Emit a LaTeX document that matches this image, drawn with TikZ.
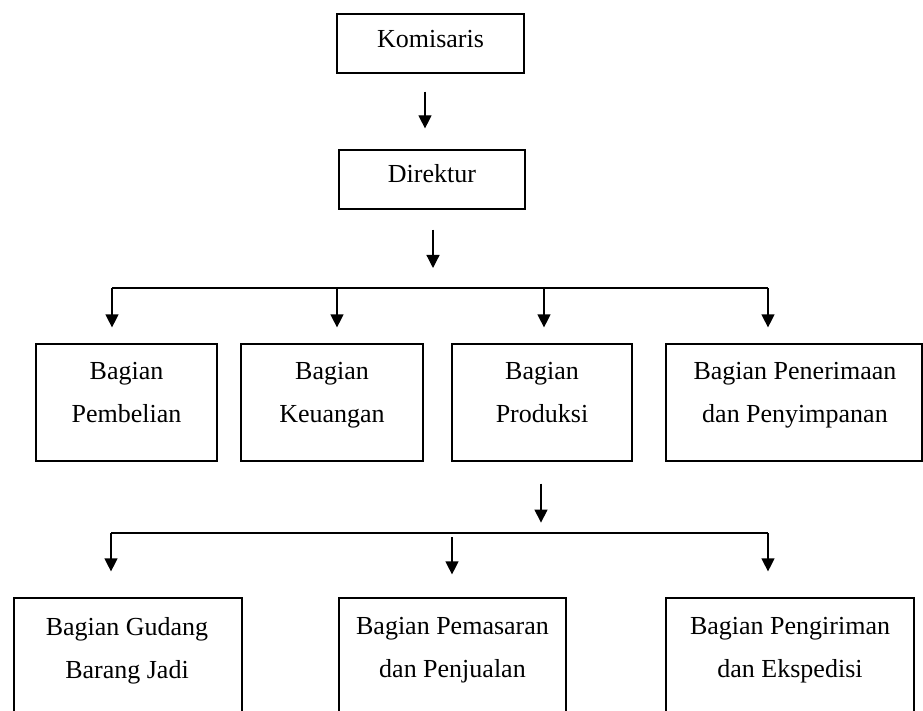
\documentclass[tikz,border=0pt]{standalone}
\usepackage{fontspec}
\setmainfont{Liberation Serif}
\usetikzlibrary{arrows.meta}
\begin{document}
\begin{tikzpicture}[x=1pt,y=-1pt,
  box/.style={draw=black, line width=1.2pt, inner sep=0pt},
  txt/.style={align=center, inner sep=0pt, font=\fontsize{26}{43}\selectfont},
  arr/.style={draw=black, line width=1.2pt, -{Triangle[width=13pt,length=13pt]}},
  busline/.style={draw=black, line width=1.2pt}]
\useasboundingbox (0,0) rectangle (923,711);
\clip (0,0) rectangle (923,711);
\fill[white] (0,0) rectangle (923,711);

% top boxes
\node[box, minimum width=187pt, minimum height=59pt] (kom) at (430.5,43.5) {};
\node[txt, anchor=base] (tkom) at (430.5,48) {Komisaris};
\node[box, minimum width=186pt, minimum height=59pt] (dir) at (432,179.5) {};
\node[txt, anchor=base] (tdir) at (432,183) {Direktur};

% row 1
\node[box, minimum width=181pt, minimum height=117pt] (b1) at (126.5,402.5) {};
\node[box, minimum width=182pt, minimum height=117pt] (b2) at (332,402.5) {};
\node[box, minimum width=180pt, minimum height=117pt] (b3) at (542,402.5) {};
\node[box, minimum width=256pt, minimum height=117pt] (b4) at (794,402.5) {};
\node[txt, anchor=north] (t1) at (126.5,362) {Bagian\\Pembelian};
\node[txt, anchor=north] (t2) at (332,362) {Bagian\\Keuangan};
\node[txt, anchor=north] (t3) at (542,362) {Bagian\\Produksi};
\node[txt, anchor=north] (t4) at (795,362) {Bagian Penerimaan\\dan Penyimpanan};

% row 2
\node[box, minimum width=228pt, minimum height=132pt] (c1) at (128,664) {};
\node[box, minimum width=227pt, minimum height=132pt] (c2) at (452.5,664) {};
\node[box, minimum width=248pt, minimum height=132pt] (c3) at (790,664) {};
\node[txt, anchor=north] (u1) at (127,617) {Bagian Gudang\\Barang Jadi};
\node[txt, anchor=north] (u2) at (452.5,617) {Bagian Pemasaran\\dan Penjualan};
\node[txt, anchor=north] (u3) at (790,617) {Bagian Pengiriman\\dan Ekspedisi};

% connectors
\draw[arr] ([xshift=-5.5pt,yshift=-18pt]kom.south) -- ([xshift=-7pt,yshift=21pt]dir.north);
\coordinate (h1L) at (112,288);
\coordinate (h1R) at (768,288);
\coordinate (h1b) at (337,288);
\coordinate (h1c) at (544,288);
\draw[arr] ([xshift=1pt,yshift=-20pt]dir.south) -- ([xshift=1pt,yshift=20pt]dir.south |- h1L);
\draw[busline] (h1L) -- (h1R);
\draw[arr] (h1L) -- ([xshift=-14.5pt,yshift=16pt]b1.north);
\draw[arr] (h1b) -- ([xshift=5pt,yshift=16pt]b2.north);
\draw[arr] (h1c) -- ([xshift=2pt,yshift=16pt]b3.north);
\draw[arr] (h1R) -- ([xshift=-26pt,yshift=16pt]b4.north);

\coordinate (h2L) at (111,533);
\coordinate (h2R) at (768,533);
\coordinate (h2b) at (452,537);
\draw[arr] ([xshift=-1pt,yshift=-22pt]b3.south) -- ([xshift=-1pt,yshift=-61pt]b3.south);
\draw[busline] (h2L) -- (h2R);
\draw[arr] (h2L) -- ([xshift=-17pt,yshift=26pt]c1.north);
\draw[arr] (h2b) -- ([xshift=-0.5pt,yshift=23pt]c2.north);
\draw[arr] (h2R) -- ([xshift=-22pt,yshift=26pt]c3.north);
\end{tikzpicture}
\end{document}
